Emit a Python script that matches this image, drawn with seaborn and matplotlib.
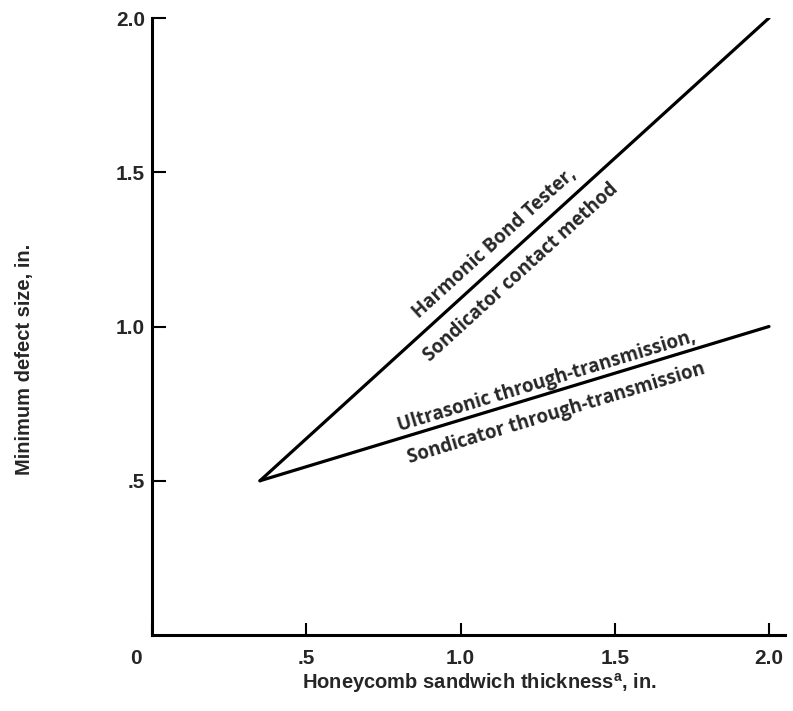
"""
Minimum detectable defect size vs honeycomb sandwich thickness, two NDT method groups.
"""

import matplotlib.pyplot as plt
import matplotlib.transforms as mtransforms
import numpy as np
import pandas as pd
import seaborn as sns

# -----------------------------------------------------------------------------
# Data
# -----------------------------------------------------------------------------
thickness = [0.35, 2.0]
defect_contact = [0.5, 2.0]      # Harmonic Bond Tester / Sondicator contact
defect_through = [0.5, 1.0]      # Ultrasonic / Sondicator through-transmission

x_ticks = [0, 0.5, 1.0, 1.5, 2.0]
x_tick_labels = ["0", ".5", "1.0", "1.5", "2.0"]
y_ticks = [0.5, 1.0, 1.5, 2.0]
y_tick_labels = [".5", "1.0", "1.5", "2.0"]

# (text, series, x position along the line, perpendicular offset in pt, vertical align)
line_labels = [
    ("Harmonic Bond Tester,", "contact", 1.15, 9, "baseline"),
    ("Sondicator contact method", "contact", 1.15, -8, "top"),
    ("Ultrasonic through-transmission,", "through", 1.29, 5, "baseline"),
    ("Sondicator through-transmission", "through", 1.29, -8, "top"),
]

df = pd.DataFrame({
    "thickness": thickness * 2,
    "defect": defect_contact + defect_through,
    "method": ["contact"] * 2 + ["through"] * 2,
})
series = {"contact": defect_contact, "through": defect_through}

# -----------------------------------------------------------------------------
# Style
# -----------------------------------------------------------------------------
sns.set_theme(style="white")
plt.rcParams["font.family"] = ["Liberation Sans", "DejaVu Sans"]
plt.rcParams["mathtext.fontset"] = "custom"
plt.rcParams["mathtext.rm"] = "Liberation Sans:bold"

fig = plt.figure(figsize=(7.93, 7.11), dpi=100)
ax = fig.add_axes([152 / 793, 76 / 711, 633 / 793, 617 / 711])

sns.lineplot(
    data=df, x="thickness", y="defect", hue="method",
    palette=["black", "black"], linewidth=2.3, legend=False, ax=ax,
)

ax.set_xlim(0, 633 / 308.5)
ax.set_ylim(0, 2.0)

for side in ["top", "right"]:
    ax.spines[side].set_visible(False)
for side in ["left", "bottom"]:
    ax.spines[side].set_linewidth(2.2)
    ax.spines[side].set_color("black")

ax.set_xticks(x_ticks)
ax.set_xticklabels(x_tick_labels, fontsize=15, fontweight="bold")
ax.set_yticks(y_ticks)
ax.set_yticklabels(y_tick_labels, fontsize=15, fontweight="bold")
ax.tick_params(axis="x", bottom=True, direction="in", length=8.5, width=1.5,
               pad=10, color="black")
ax.tick_params(axis="y", left=True, direction="in", length=10, width=1.5,
               pad=5, color="black")

# the "0" label sits a bit left of the corner
zero_lab = ax.get_xticklabels()[0]
zero_lab.set_transform(zero_lab.get_transform()
                       + mtransforms.ScaledTranslation(-0.16, 0, fig.dpi_scale_trans))

ax.set_xlabel("Honeycomb sandwich thickness$^{\\mathrm{a}}$, in.",
              fontsize=14.5, fontweight="bold")
ax.set_ylabel("Minimum defect size, in.", fontsize=14.5, fontweight="bold")
ax.xaxis.set_label_coords(0.518, -0.058)
ax.yaxis.set_label_coords(-0.187, 0.446)

# -----------------------------------------------------------------------------
# Labels along the lines
# -----------------------------------------------------------------------------
for text, key, xpos, off, va in line_labels:
    ys = series[key]
    ypos = np.interp(xpos, thickness, ys)
    p0 = ax.transData.transform((thickness[0], ys[0]))
    p1 = ax.transData.transform((thickness[1], ys[1]))
    ang = np.arctan2(p1[1] - p0[1], p1[0] - p0[0])
    dx, dy = -np.sin(ang) * off, np.cos(ang) * off
    ax.annotate(
        text, xy=(xpos, ypos), xytext=(dx, dy), textcoords="offset points",
        rotation=np.degrees(ang), rotation_mode="anchor",
        ha="center", va=va, fontsize=13.5, fontweight="bold",
        family=["Open Sans", "DejaVu Sans"],
    )

fig.savefig("out.png", dpi=100)
